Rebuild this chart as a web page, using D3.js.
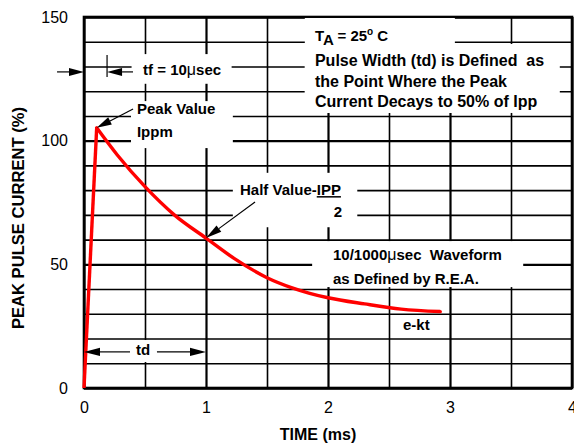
<!DOCTYPE html>
<html>
<head>
<meta charset="utf-8">
<script src="https://cdn.jsdelivr.net/npm/d3@7"></script>
<style>
  body { margin: 0; background: #fff; }
  svg text { font-family: "Liberation Sans", Arial, Helvetica, sans-serif; fill: #000; }
  .note { font-weight: bold; font-size: 15px; white-space: pre; }
  .big { font-size: 16px; }
</style>
</head>
<body>
<svg id="chart" width="574" height="448"></svg>
<script>
// curva 10/1000 us
const timeMs = [0, 0.104, 0.273, 0.5, 0.74, 1.0, 1.23, 1.5, 1.7, 1.85, 2.0, 2.3, 2.6, 2.92];
const currentPct = [0, 105.2, 94.2, 81.4, 70, 60.6, 52.4, 44.6, 40.6, 38.3, 36.5, 34.0, 31.9, 30.9];
const peakIndex = 1;

const xTickLabels = [0, 1, 2, 3, 4];
const yTickLabels = [0, 50, 100, 150];
const xGrid = d3.range(0, 4.01, 0.5);
const yGrid = d3.range(0, 151, 10);

const svg = d3.select("#chart");
const plotLeft = 84, plotRight = 572, plotTop = 17, plotBottom = 388;

const x = d3.scaleLinear().domain([0, 4]).range([plotLeft, plotRight]);
const y = d3.scaleLinear().domain([0, 150]).range([plotBottom, plotTop]);

// Rejilla
svg.append("g")
  .attr("transform", `translate(0,${plotBottom})`)
  .call(d3.axisBottom(x).tickValues(xGrid).tickSize(-(plotBottom - plotTop)).tickFormat(""))
  .call((g) => g.select(".domain").remove())
  .selectAll("line")
  .attr("stroke", "#000")
  .attr("stroke-width", (d) => (Number.isInteger(d) ? 2.2 : 1.6));

svg.append("g")
  .attr("transform", `translate(${plotLeft},0)`)
  .call(d3.axisLeft(y).tickValues(yGrid).tickSize(-(plotRight - plotLeft)).tickFormat(""))
  .call((g) => g.select(".domain").remove())
  .selectAll("line")
  .attr("stroke", "#000")
  .attr("stroke-width", (d) => (d % 50 === 0 ? 2.4 : 1.6));

svg.append("rect")
  .attr("x", x(0))
  .attr("y", y(150))
  .attr("width", x(4) - x(0))
  .attr("height", y(0) - y(150))
  .attr("fill", "none")
  .attr("stroke", "#000")
  .attr("stroke-width", 2.6);

// Cajas blancas detras de las notas [t0, t1, v0, v1]
const masks = [
  [0.39, 1.21, 123, 135],
  [0.385, 1.22, 97, 116],
  [1.22, 2.24, 65, 87],
  [1.81, 3.04, 111.2, 149.6],
  [1.81, 3.9, 111.2, 139.1],
  [1.87, 3.6, 40.8, 59.4],
  [0.377, 0.598, 10.5, 19.4],
];
svg.selectAll("rect.mask")
  .data(masks)
  .enter()
  .append("rect")
  .attr("class", "mask")
  .attr("x", (d) => x(d[0]))
  .attr("y", (d) => y(d[3]))
  .attr("width", (d) => x(d[1]) - x(d[0]))
  .attr("height", (d) => y(d[2]) - y(d[3]))
  .attr("fill", "#fff");

// Curva: subida recta hasta el pico, luego caida suave
const pts = timeMs.map((t, i) => [t, currentPct[i]]);
const lineRise = d3.line().x((d) => x(d[0])).y((d) => y(d[1]));
const lineDecay = d3.line().x((d) => x(d[0])).y((d) => y(d[1])).curve(d3.curveMonotoneX);

svg.append("path")
  .attr("d", lineRise(pts.slice(0, peakIndex + 1)))
  .attr("fill", "none")
  .attr("stroke", "#f00")
  .attr("stroke-width", 3.4);
svg.append("path")
  .attr("d", lineDecay(pts.slice(peakIndex)))
  .attr("fill", "none")
  .attr("stroke", "#f00")
  .attr("stroke-width", 3.4)
  .attr("stroke-linecap", "round");

// Etiquetas de ejes
svg.append("g")
  .attr("transform", `translate(${plotLeft},0)`)
  .call(d3.axisLeft(y).tickValues(yTickLabels).tickSize(0).tickPadding(16))
  .call((g) => g.select(".domain").remove())
  .selectAll("text")
  .attr("font-family", null)
  .attr("font-size", 16);

svg.append("g")
  .attr("transform", `translate(0,${plotBottom})`)
  .call(d3.axisBottom(x).tickValues(xTickLabels).tickFormat(d3.format("d")).tickSize(0).tickPadding(14))
  .call((g) => g.select(".domain").remove())
  .selectAll("text")
  .attr("font-family", null)
  .attr("font-size", 16);

svg.append("text")
  .attr("x", 318)
  .attr("y", 440)
  .attr("text-anchor", "middle")
  .attr("font-size", 16)
  .attr("font-weight", "bold")
  .text("TIME (ms)");

svg.append("text")
  .attr("transform", "translate(18,218) rotate(-90)")
  .attr("text-anchor", "middle")
  .attr("dominant-baseline", "central")
  .attr("font-size", 16.6)
  .attr("font-weight", "bold")
  .text("PEAK PULSE CURRENT (%)");

// Flechas
function arrow(p0, p1, len = 15, half = 4) {
  const x0 = x(p0[0]), y0 = y(p0[1]), x1 = x(p1[0]), y1 = y(p1[1]);
  const a = Math.atan2(y1 - y0, x1 - x0);
  const bx = x1 - len * Math.cos(a), by = y1 - len * Math.sin(a);
  svg.append("line")
    .attr("x1", x0).attr("y1", y0)
    .attr("x2", bx).attr("y2", by)
    .attr("stroke", "#000")
    .attr("stroke-width", 1.2);
  svg.append("path")
    .attr("d", `M${x1},${y1}L${bx - half * Math.sin(a)},${by + half * Math.cos(a)}L${bx + half * Math.sin(a)},${by - half * Math.cos(a)}Z`)
    .attr("fill", "#000");
}

arrow([-0.221, 127.8], [0, 127.8]);
arrow([0.402, 127.8], [0.189, 127.8]);
svg.append("line")
  .attr("x1", x(0.189)).attr("x2", x(0.189))
  .attr("y1", y(134.6)).attr("y2", y(125.7))
  .attr("stroke", "#000")
  .attr("stroke-width", 1.2);
arrow([0.402, 112.8], [0.104, 105.2], 15, 4);
arrow([1.402, 75.2], [1.0, 60.6], 16, 4);
arrow([0.377, 14.6], [0, 14.6], 16, 4.2);
arrow([0.598, 14.6], [1, 14.6], 16, 4.2);

// Notas
function note(t, v, anchor) {
  return svg.append("text")
    .attr("class", "note")
    .attr("x", x(t))
    .attr("y", y(v))
    .attr("text-anchor", anchor || "start");
}

const tf = note(0.484, 126.6);
tf.append("tspan").text("tf = 10");
tf.append("tspan").attr("font-weight", "normal").attr("font-size", 16).text("μ");
tf.append("tspan").text("sec");

note(0.434, 110.8).text("Peak Value");
note(0.434, 101.5).text("Ippm");

const halfNote = note(1.279, 78.0);
halfNote.append("tspan").text("Half Value-");
halfNote.append("tspan").style("text-decoration", "underline").text("IPP");
note(2.082, 69.1, "middle").text("2");

const ta = note(1.893, 140.3);
ta.append("tspan").text("T");
ta.append("tspan").attr("dy", 4).text("A");
ta.append("tspan").attr("dy", -4).text(" = 25");
ta.append("tspan").attr("dy", -6).attr("font-size", 10).text("o");
ta.append("tspan").attr("dy", 6).text(" C");
note(1.893, 130.0).classed("big", true).text("Pulse Width (td) is Defined  as");
note(1.893, 121.9).classed("big", true).text("the Point Where the Peak");
note(1.893, 113.8).classed("big", true).text("Current Decays to 50% of Ipp");

const wf = note(2.041, 51.8);
wf.append("tspan").text("10/1000");
wf.append("tspan").attr("font-weight", "normal").attr("font-size", 16).text("μ");
wf.append("tspan").text("sec  Waveform");
note(2.041, 42.0).text("as Defined by R.E.A.");

note(2.615, 23.5).text("e-kt");
note(0.426, 13.3).text("td");
</script>
</body>
</html>
